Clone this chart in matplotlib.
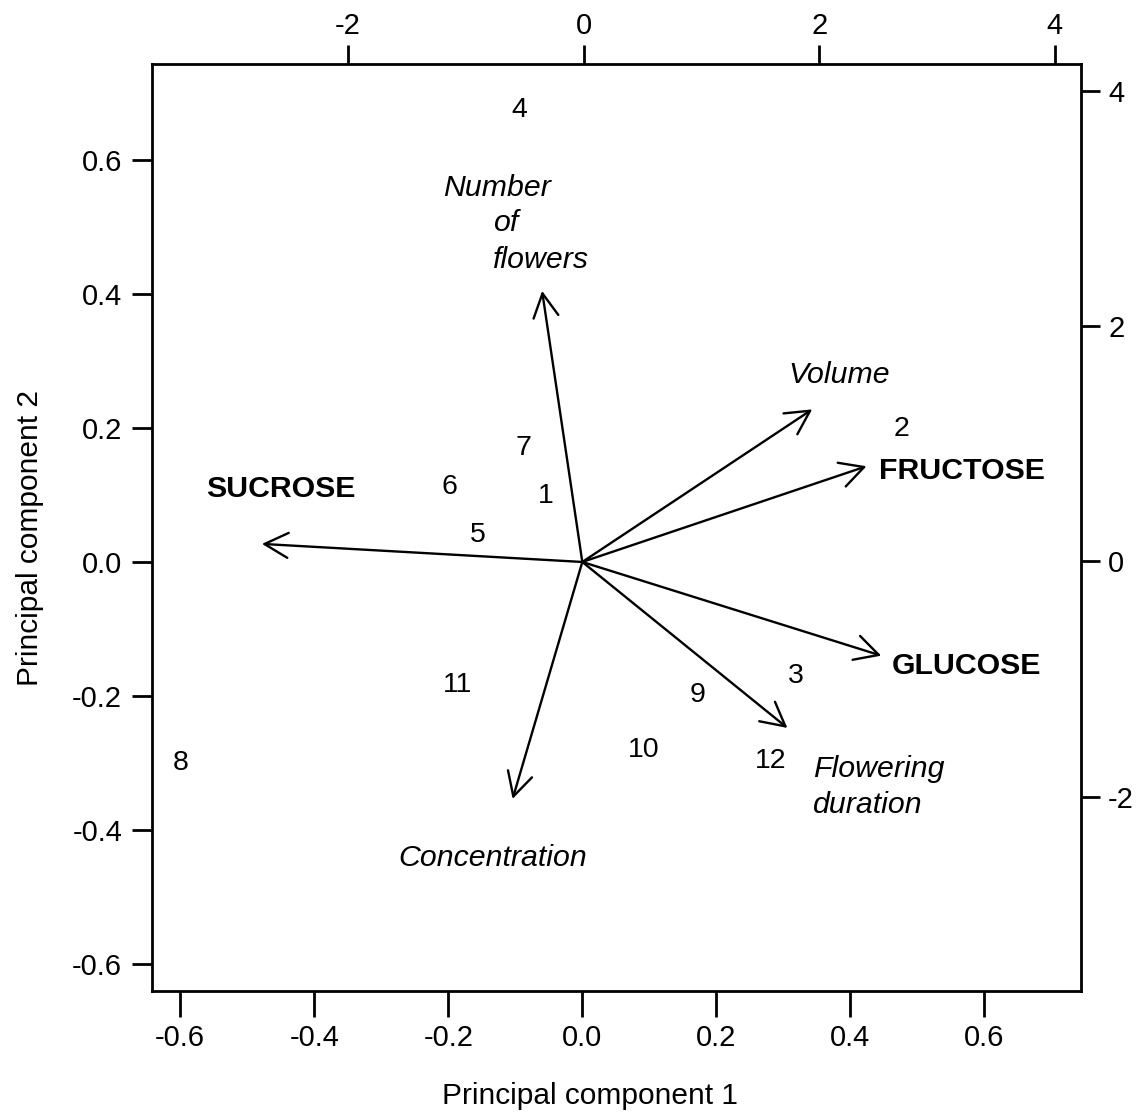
import matplotlib
matplotlib.use("Agg")
import matplotlib.pyplot as plt

plt.rcParams['font.family'] = ['Liberation Sans', 'DejaVu Sans']
plt.rcParams['axes.unicode_minus'] = False

# ---- data ----
variables = ["Number of flowers", "Volume", "FRUCTOSE", "GLUCOSE",
             "Flowering duration", "Concentration", "SUCROSE"]
load_pc1 = [-0.060, 0.343, 0.424, 0.446, 0.306, -0.104, -0.478]
load_pc2 = [0.405, 0.228, 0.143, -0.140, -0.248, -0.354, 0.027]

samples = ["1", "2", "3", "4", "5", "6", "7", "8", "9", "10", "11", "12"]
score_pc1 = [-0.32, 2.70, 1.80, -0.55, -0.90, -1.14, -0.51, -3.42, 0.97, 0.51, -1.07, 1.59]
score_pc2 = [0.58, 1.15, -0.95, 3.87, 0.25, 0.66, 0.99, -1.69, -1.11, -1.58, -1.02, -1.67]

load_ticks = [-0.6, -0.4, -0.2, 0.0, 0.2, 0.4, 0.6]
score_ticks = [-2, 0, 2, 4]

# ---- label layout (loading coordinates, baseline anchored) ----
var_labels = [
    ("Number", -0.208, 0.547, 'italic', 'normal', 'left'),
    ("of", -0.133, 0.494, 'italic', 'normal', 'left'),
    ("flowers", -0.133, 0.439, 'italic', 'normal', 'left'),
    ("Volume", 0.384, 0.267, 'italic', 'normal', 'center'),
    ("FRUCTOSE", 0.442, 0.124, 'normal', 'bold', 'left'),
    ("GLUCOSE", 0.461, -0.167, 'normal', 'bold', 'left'),
    ("SUCROSE", -0.561, 0.097, 'normal', 'bold', 'left'),
    ("Flowering", 0.344, -0.321, 'italic', 'normal', 'left'),
    ("duration", 0.344, -0.375, 'italic', 'normal', 'left'),
    ("Concentration", -0.274, -0.454, 'italic', 'normal', 'left'),
]

W, H = 1136, 1120
fig = plt.figure(figsize=(W / 100, H / 100), dpi=100)
pos = [152 / W, 1 - 991 / H, (1081 - 152) / W, (991 - 64) / H]
ax = fig.add_axes(pos)
ax2 = fig.add_axes(pos, frameon=False)

ax.set_xlim(-0.642, 0.744)
ax.set_ylim(-0.641, 0.744)
ax2.set_xlim(-3.664, 4.222)
ax2.set_ylim(-3.654, 4.23)

for s in ax.spines.values():
    s.set_linewidth(2.0)

ax.set_xticks(load_ticks)
ax.set_xticklabels([f"{t:.1f}" for t in load_ticks])
ax.set_yticks(load_ticks)
ax.set_yticklabels([f"{t:.1f}" for t in load_ticks])
ax.tick_params(axis='x', direction='out', length=19, width=2, labelsize=21, pad=5)
ax.tick_params(axis='y', direction='out', length=14.5, width=2, labelsize=21, pad=7)

ax2.xaxis.tick_top()
ax2.yaxis.tick_right()
ax2.set_xticks(score_ticks)
ax2.set_xticklabels([str(t) for t in score_ticks])
ax2.set_yticks(score_ticks)
ax2.set_yticklabels([str(t) for t in score_ticks])
ax2.tick_params(axis='x', direction='out', length=13.5, width=2, labelsize=21, pad=4)
ax2.tick_params(axis='y', direction='out', length=13.5, width=2, labelsize=21, pad=6)

# arrows (loadings)
for x, y in zip(load_pc1, load_pc2):
    ax.annotate('', xy=(x, y), xytext=(0, 0),
                arrowprops=dict(arrowstyle='->,head_length=0.85,head_width=0.45',
                                mutation_scale=20, lw=1.7, color='black',
                                shrinkA=0, shrinkB=0))

for txt, x, y, style, weight, ha in var_labels:
    ax.text(x, y, txt, fontsize=21.8, style=style, fontweight=weight,
            ha=ha, va='baseline', color='black')

# sample scores
for lab, x, y in zip(samples, score_pc1, score_pc2):
    ax2.annotate(lab, xy=(x, y), xytext=(0, -7.4), textcoords='offset points',
                 ha='center', va='baseline', fontsize=20.5, color='black')

ax.set_xlabel("Principal component 1", fontsize=21.5)
ax.set_ylabel("Principal component 2", fontsize=21.5)
ax.xaxis.set_label_coords((590 - 152) / 929, (991 - 1082) / 927)
ax.yaxis.set_label_coords((44 - 152) / 929, (991 - 538) / 927)

fig.savefig("out.png", dpi=100)
